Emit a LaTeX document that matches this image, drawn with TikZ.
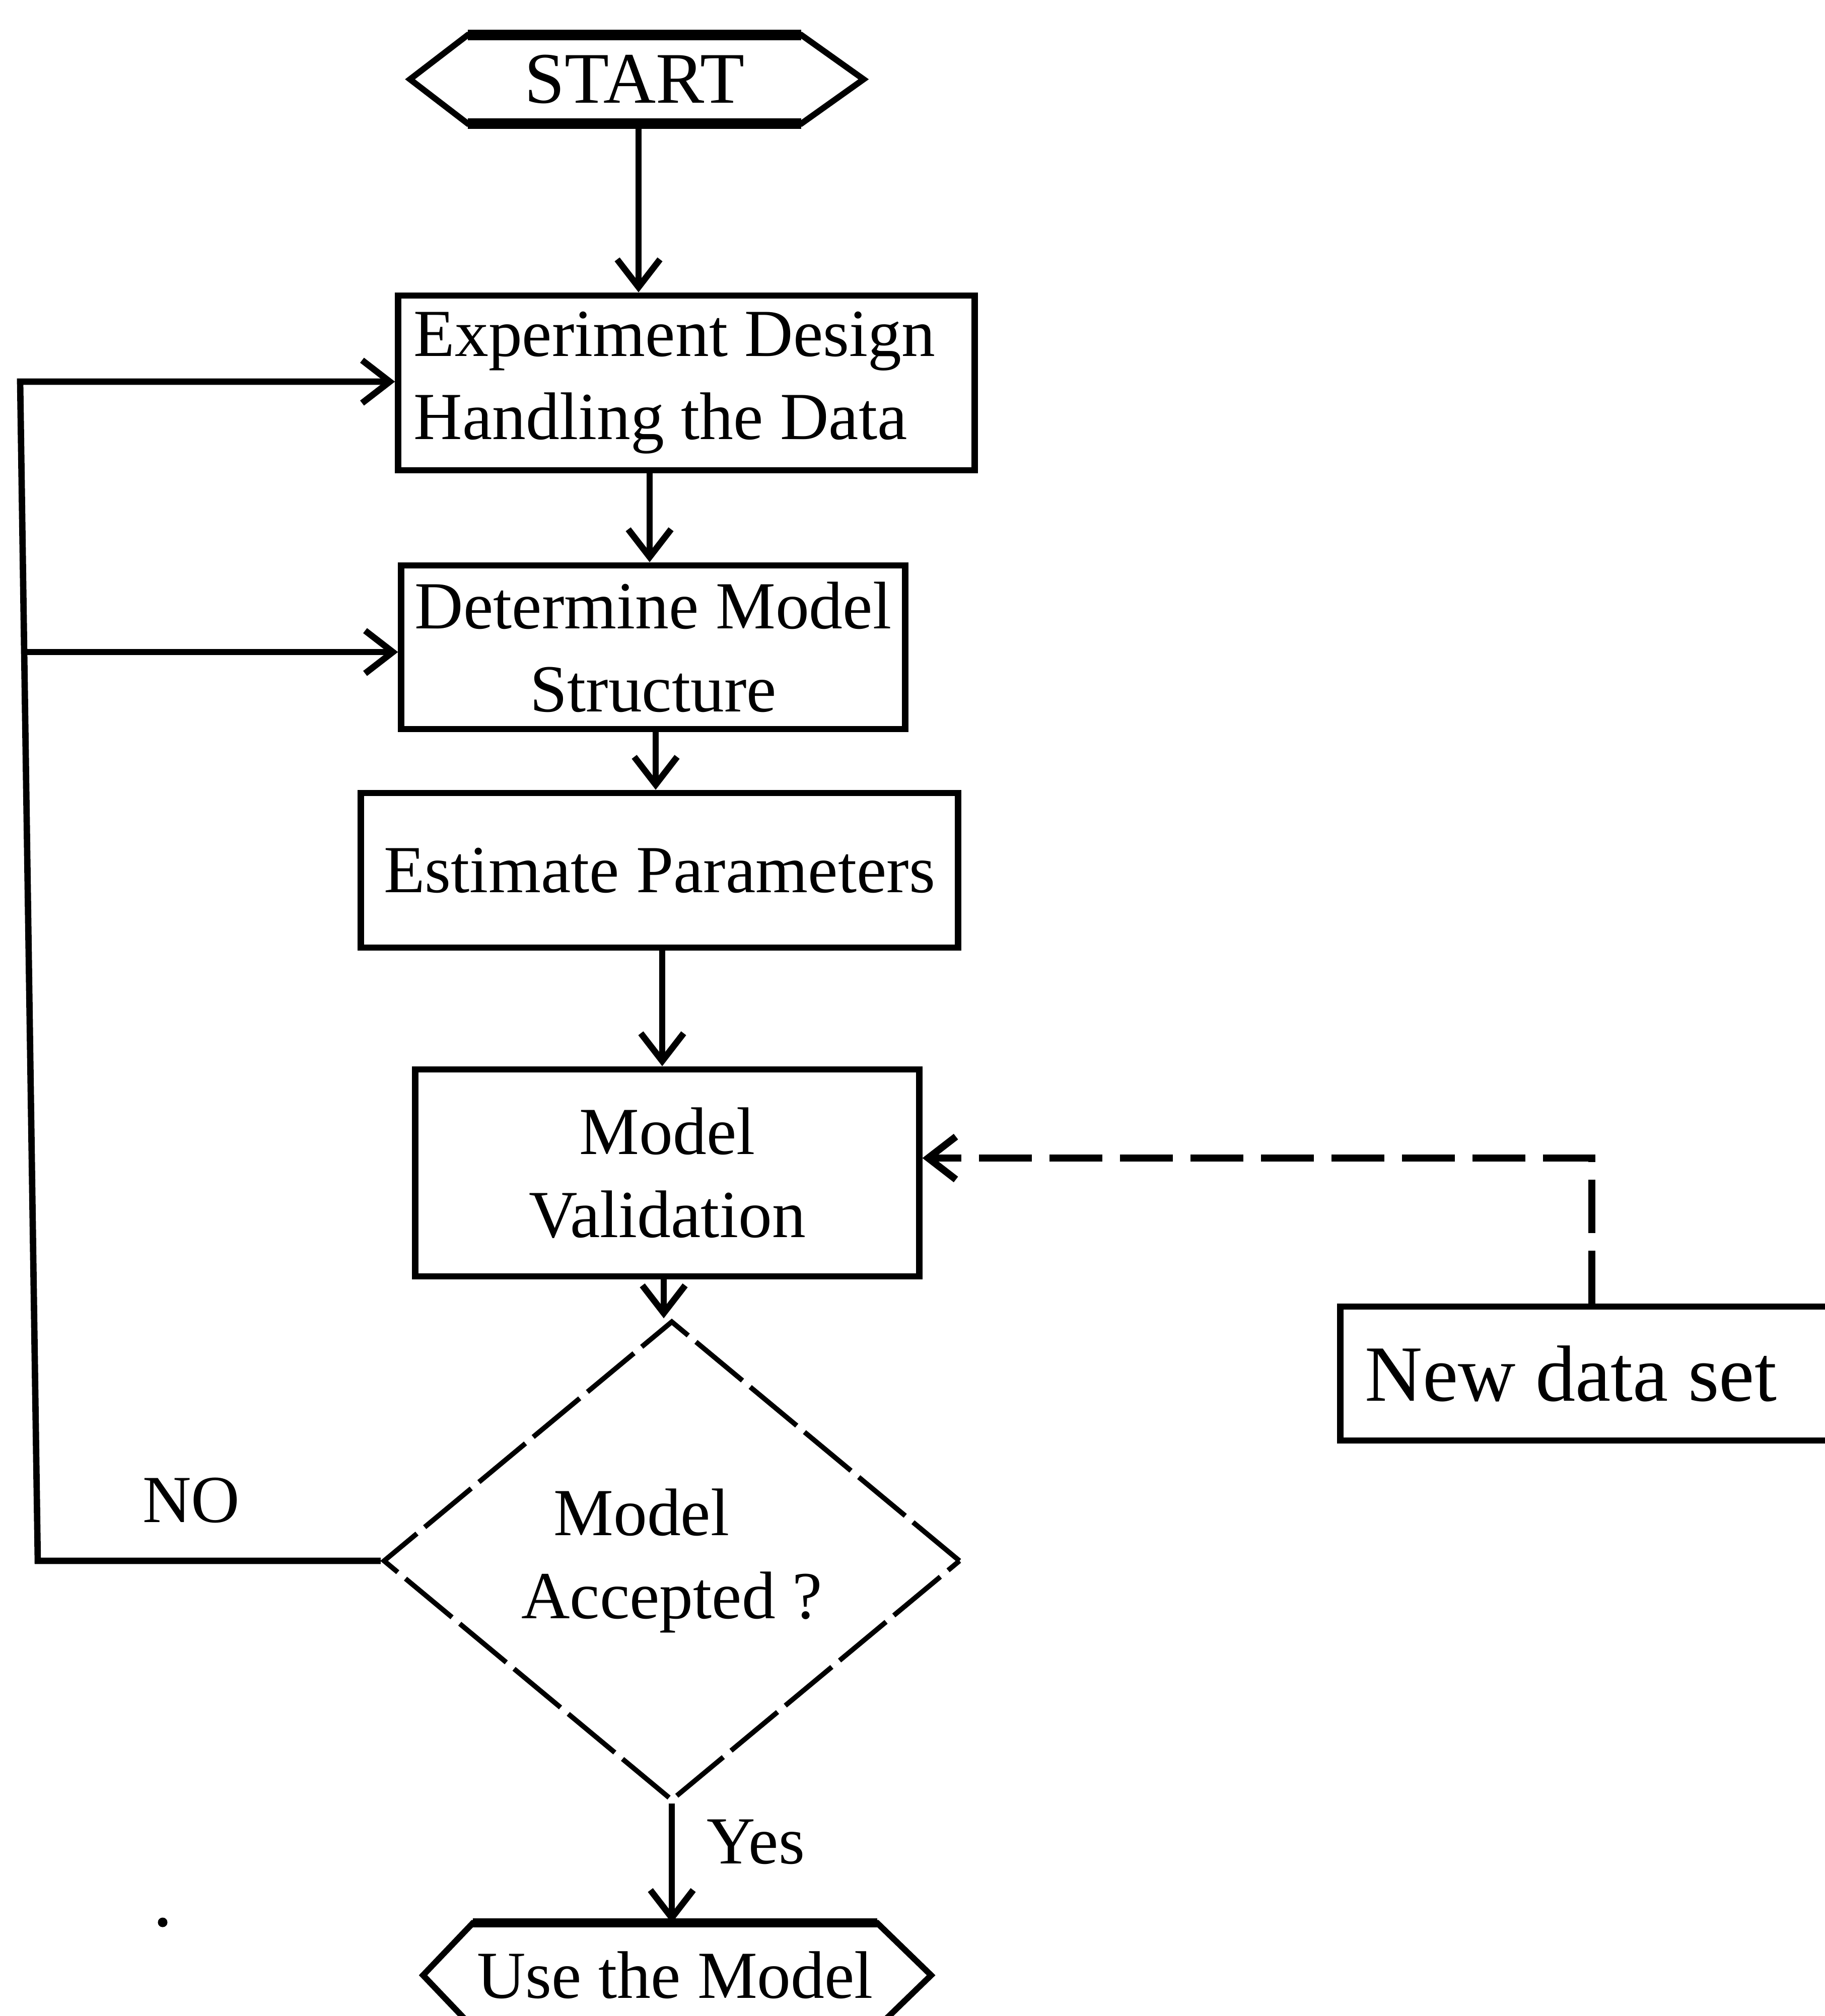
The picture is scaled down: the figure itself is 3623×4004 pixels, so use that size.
\documentclass[tikz,border=0pt]{standalone}
\usepackage{fontspec}
\setmainfont{Liberation Serif}
\usetikzlibrary{arrows.meta,shapes.geometric,calc}
\newcommand{\dgfont}{\fontsize{38pt}{47pt}\selectfont}
\newcommand{\ndfont}{\fontsize{45pt}{54pt}\selectfont}
\newcommand{\stfont}{\fontsize{41pt}{48pt}\selectfont}
\begin{document}
\begin{tikzpicture}[x=0.01cm,y=-0.01cm,
  ln/.style={line width=3.6pt},
  arr/.style={line width=3.6pt,-{Straight Barb[length=5.5mm,width=8.5mm]}},
  dsh/.style={line width=4pt,dash pattern=on 10.5mm off 3.5mm,-{Straight Barb[length=5.5mm,width=8.5mm]}},
  flowbox/.style={draw,line width=3.6pt,rectangle,inner sep=0pt,font=\dgfont,align=center},
  txtonly/.style={inner sep=0pt,font=\dgfont,align=center},
  hexside/.style={line width=3.4pt,line join=miter}]
\useasboundingbox (0,0) rectangle (3623,4004);
\fill[white] (0,0) rectangle (3623,4004);

% nodes
\node[txtonly,font=\stfont,minimum width=6.6cm,minimum height=1.75cm] (start) at (1260,157.5) {START};
\node[flowbox,minimum width=11.44cm,minimum height=3.47cm,text width=10.82cm,inner xsep=0.31cm,align=flush left] (exp) at (1363,760.5) {Experiment Design\\Handling the Data};
\node[flowbox,minimum width=10cm,minimum height=3.25cm] (det) at (1297,1285.5) {Determine Model\\Structure};
\node[flowbox,minimum width=11.85cm,minimum height=3.07cm] (est) at (1309.5,1728.5) {Estimate Parameters};
\node[flowbox,minimum width=10cm,minimum height=4.11cm] (val) at (1325,2329.5) {Model\\Validation};
\node[diamond,draw,line width=2.8pt,dash pattern=on 12mm off 2mm,inner sep=0pt,minimum width=11.46cm,minimum height=9.53cm,font=\dgfont,align=center] (dia) at (1334,3100) {Model\hspace*{1.2cm}\\Accepted ?};
\node[flowbox,font=\ndfont,minimum width=9.78cm,minimum height=2.66cm,text width=8.8cm,inner xsep=0.49cm,align=flush left] (nd) at (3151,2728) {New data set};
\node[txtonly,minimum width=8.01cm,minimum height=2.06cm] (use) at (1340.5,3923) {Use the Model};
\node[txtonly] (no) at (380,2980) {NO};
\node[txtonly] (yes) at (1501,3658) {Yes};

% hexagon outlines
\draw[hexside] ($(start.west)+(-115,0)$) -- (start.north west) -- (start.north east) -- ($(start.east)+(124,0)$) -- (start.south east) -- (start.south west) -- cycle;
\draw[line width=6pt] (start.north west) -- (start.north east) (start.south west) -- (start.south east);
\draw[hexside] ($(use.west)+(-99,0)$) -- (use.north west) -- (use.north east) -- ($(use.east)+(107,0)$) -- (use.south east) -- (use.south west) -- cycle;
\draw[line width=5pt] (use.north west) -- (use.north east);

% connectors
\coordinate (x1) at (1268,0);
\coordinate (x2) at (1290,0);
\coordinate (x3) at (1302,0);
\coordinate (x4) at (1315,0);
\coordinate (x5) at (1318,0);
\draw[arr] (start.south -| x1) -- (exp.north -| x1);
\draw[arr] (exp.south -| x2) -- (det.north -| x2);
\draw[arr] (det.south -| x3) -- (est.north -| x3);
\draw[arr] (est.south -| x4) -- (val.north -| x4);
\draw[arr] (val.south -| x5) -- (dia.north -| x5);
\draw[arr] (dia.south) -- (dia.south |- use.north);

\coordinate (lb) at (75,3100);
\coordinate (lt) at (40,758);
\coordinate (lm) at (48,1295);
\draw[arr,line join=miter] (dia.west) -- (lb) -- (lt) -- (exp.west |- lt);
\draw[arr] (lm) -- (det.west |- lm);

\coordinate (dc) at (3161,2300);
\draw[dsh] (nd.north -| dc) -- (dc) -- (val.east |- dc);

\fill (323,3818) circle (0.095cm);
\end{tikzpicture}
\end{document}
